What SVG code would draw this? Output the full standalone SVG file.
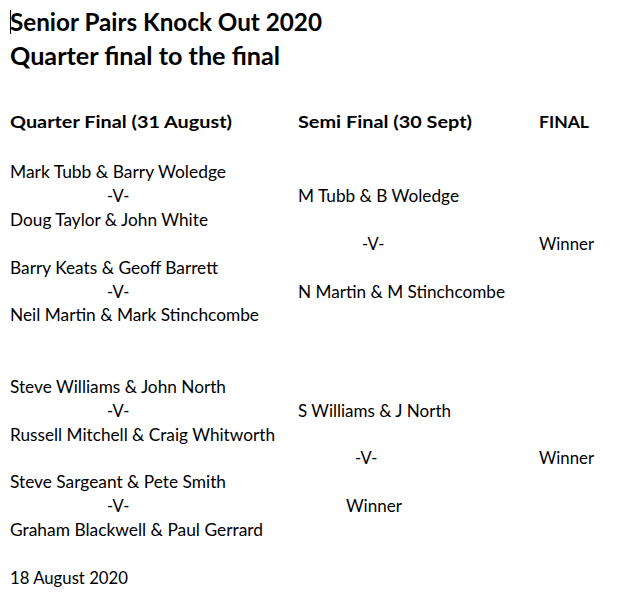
<svg xmlns="http://www.w3.org/2000/svg" width="623" height="603" viewBox="0 0 623 603">
<style>
text{font-family:Lato,"Open Sans","Liberation Sans",sans-serif;fill:#000}
.t{font-size:25px;font-weight:bold}
.h{font-size:17px;font-weight:bold}
.b{font-size:16.5px}
</style>
<rect width="623" height="603" fill="#fff"/>
<line x1="10.5" y1="10" x2="10.5" y2="34" stroke="#000" stroke-width="1"/>
<text class="t" x="10" y="31" textLength="312" lengthAdjust="spacingAndGlyphs">Senior Pairs Knock Out 2020</text>
<text class="t" x="10" y="65" textLength="270" lengthAdjust="spacingAndGlyphs">Quarter final to the final</text>
<text class="h" x="10" y="128" textLength="222" lengthAdjust="spacingAndGlyphs">Quarter Final (31 August)</text>
<text class="h" x="298" y="128" textLength="174" lengthAdjust="spacingAndGlyphs">Semi Final (30 Sept)</text>
<text class="h" x="539" y="128" textLength="50" lengthAdjust="spacingAndGlyphs">FINAL</text>
<g class="b">
<text class="b" x="10" y="178" textLength="216" lengthAdjust="spacingAndGlyphs">Mark Tubb &amp; Barry Woledge</text>
<text class="b" x="107" y="202">-V-</text>
<text class="b" x="298" y="202" textLength="161" lengthAdjust="spacingAndGlyphs">M Tubb &amp; B Woledge</text>
<text class="b" x="10" y="226" textLength="198" lengthAdjust="spacingAndGlyphs">Doug Taylor &amp; John White</text>
<text class="b" x="362" y="250">-V-</text>
<text class="b" x="539" y="250" textLength="55" lengthAdjust="spacingAndGlyphs">Winner</text>
<text class="b" x="10" y="274" textLength="208" lengthAdjust="spacingAndGlyphs">Barry Keats &amp; Geoff Barrett</text>
<text class="b" x="107" y="298">-V-</text>
<text class="b" x="298" y="298" textLength="207" lengthAdjust="spacingAndGlyphs">N Martin &amp; M Stinchcombe</text>
<text class="b" x="10" y="321" textLength="249" lengthAdjust="spacingAndGlyphs">Neil Martin &amp; Mark Stinchcombe</text>
<text class="b" x="10" y="393" textLength="216" lengthAdjust="spacingAndGlyphs">Steve Williams &amp; John North</text>
<text class="b" x="107" y="417">-V-</text>
<text class="b" x="298" y="417" textLength="153" lengthAdjust="spacingAndGlyphs">S Williams &amp; J North</text>
<text class="b" x="10" y="441" textLength="265" lengthAdjust="spacingAndGlyphs">Russell Mitchell &amp; Craig Whitworth</text>
<text class="b" x="355" y="464">-V-</text>
<text class="b" x="539" y="464" textLength="55" lengthAdjust="spacingAndGlyphs">Winner</text>
<text class="b" x="10" y="488" textLength="216" lengthAdjust="spacingAndGlyphs">Steve Sargeant &amp; Pete Smith</text>
<text class="b" x="107" y="512">-V-</text>
<text class="b" x="346" y="512" textLength="56" lengthAdjust="spacingAndGlyphs">Winner</text>
<text class="b" x="10" y="536" textLength="253" lengthAdjust="spacingAndGlyphs">Graham Blackwell &amp; Paul Gerrard</text>
<text class="b" x="10" y="584" textLength="118" lengthAdjust="spacingAndGlyphs">18 August 2020</text>
</g>
</svg>
